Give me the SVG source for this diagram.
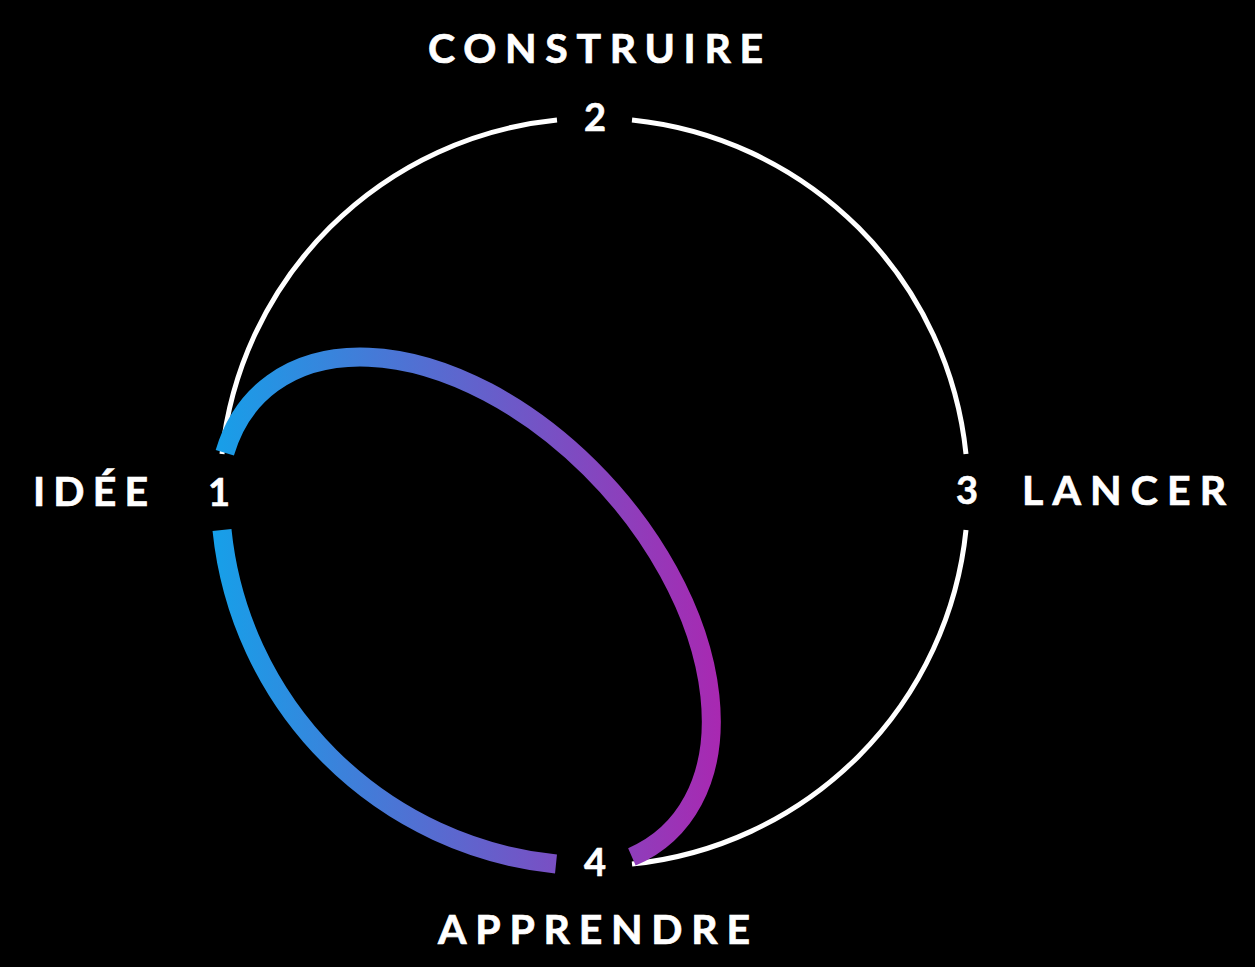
<svg xmlns="http://www.w3.org/2000/svg" width="1255" height="967" viewBox="0 0 1255 967">
  <defs>
    <linearGradient id="grad" gradientUnits="userSpaceOnUse" x1="212" y1="0" x2="722" y2="0">
      <stop offset="0" stop-color="#16a0e9"/>
      <stop offset="1" stop-color="#a928b1"/>
    </linearGradient>
    <style>
      .ring { fill: none; stroke: #ffffff; stroke-width: 5; }
      .loop { fill: none; stroke: url(#grad); stroke-width: 19; stroke-linecap: butt; }
      .num { font-family: Lato, "Liberation Sans", sans-serif; font-weight: 700; font-size: 38px; fill: #ffffff; stroke: #ffffff; stroke-width: 0.6; text-anchor: middle; }
      .lbl { font-family: Lato, "Liberation Sans", sans-serif; font-weight: 700; font-size: 41px; fill: #ffffff; stroke: #ffffff; stroke-width: 0.7; }
    </style>
  </defs>
  <rect x="0" y="0" width="1255" height="967" fill="#000000"/>
  <g id="connectors">
    <path class="ring" d="M 222 454 A 374 374 0 0 1 557 120"/>
    <path class="ring" d="M 632 120 A 374 374 0 0 1 966 454"/>
    <path class="ring" d="M 966 530 A 374 374 0 0 1 632 864"/>
    <path class="loop" d="M 222 530 A 374 374 0 0 0 556 864"/>
    <path class="loop" d="M 631.9 856.9 A 300 191 47.5 1 0 224.8 452.8"/>
  </g>
  <g id="node1">
    <text class="num" x="219" y="506">1</text>
    <text class="lbl" x="33" y="506" textLength="115" lengthAdjust="spacing">IDÉE</text>
  </g>
  <g id="node2">
    <text class="num" x="595" y="131">2</text>
    <text class="lbl" x="428" y="63" textLength="335" lengthAdjust="spacing">CONSTRUIRE</text>
  </g>
  <g id="node3">
    <text class="num" x="967" y="504">3</text>
    <text class="lbl" x="1022" y="505" textLength="204" lengthAdjust="spacing">LANCER</text>
  </g>
  <g id="node4">
    <text class="num" x="595" y="876">4</text>
    <text class="lbl" x="438" y="944" textLength="312" lengthAdjust="spacing">APPRENDRE</text>
  </g>
</svg>
